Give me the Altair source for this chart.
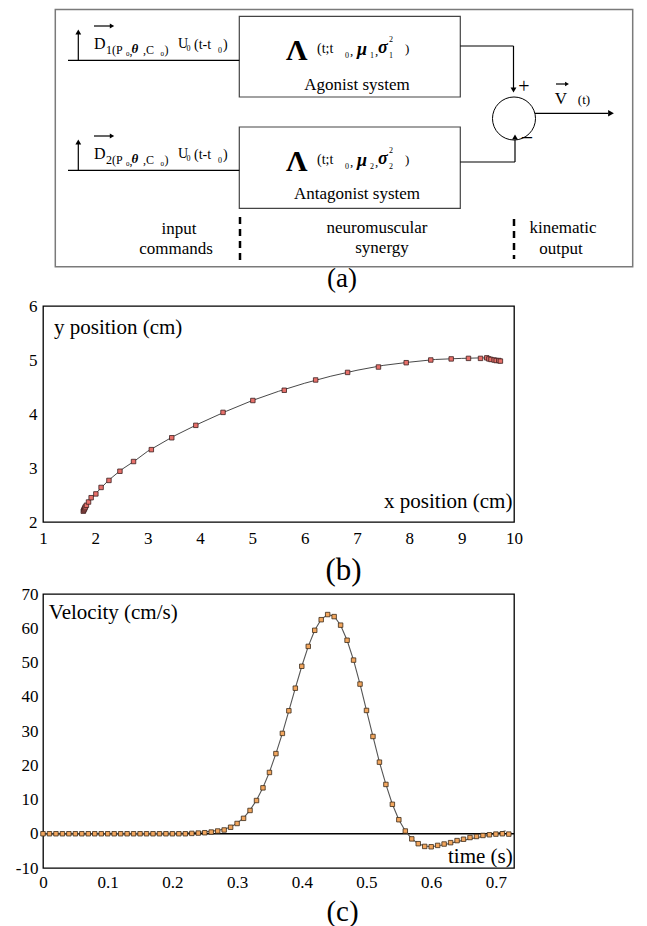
import altair as alt
import pandas as pd

FONT = "'Liberation Serif', 'Times New Roman', Times, 'DejaVu Serif', serif"

# ---------------- panel (b): trajectory ----------------
traj_x = [1.77, 1.78, 1.79, 1.80, 1.81, 1.83, 1.87, 1.92, 2.01, 2.11, 2.26, 2.47, 2.73, 3.07,
          3.46, 3.92, 4.44, 5.01, 5.61, 6.21, 6.82, 7.41, 7.94, 8.41, 8.80, 9.13, 9.36, 9.48,
          9.52, 9.56, 9.62, 9.66, 9.71, 9.74]
traj_y = [2.20, 2.22, 2.24, 2.26, 2.28, 2.31, 2.37, 2.45, 2.52, 2.64, 2.77, 2.94, 3.12, 3.34,
          3.56, 3.79, 4.03, 4.25, 4.44, 4.63, 4.77, 4.87, 4.95, 5.00, 5.02, 5.03, 5.03, 5.04,
          5.02, 5.01, 5.00, 4.99, 4.99, 4.98]
fit_x = [1.76, 1.85, 2.0, 2.25, 2.5, 2.75, 3.0, 3.5, 4.0, 4.5, 5.0, 5.5, 6.0, 6.5, 7.0, 7.5,
         8.0, 8.5, 9.0, 9.4, 9.6, 9.75]
fit_y = [2.21, 2.34, 2.52, 2.77, 2.97, 3.13, 3.31, 3.59, 3.83, 4.05, 4.25, 4.42, 4.57, 4.70,
         4.81, 4.90, 4.96, 5.01, 5.03, 5.04, 5.02, 4.99]
b_xticks = [1, 2, 3, 4, 5, 6, 7, 8, 9, 10]
b_yticks = [2, 3, 4, 5, 6]

# ---------------- panel (c): velocity ----------------
time_s = [0.00, 0.01, 0.02, 0.03, 0.04, 0.05, 0.06, 0.07, 0.08, 0.09, 0.10, 0.11, 0.12, 0.13,
          0.14, 0.15, 0.16, 0.17, 0.18, 0.19, 0.20, 0.21, 0.22, 0.23, 0.24, 0.25, 0.26, 0.27,
          0.28, 0.29, 0.30, 0.31, 0.32, 0.33, 0.34, 0.35, 0.36, 0.37, 0.38, 0.39, 0.40, 0.41,
          0.42, 0.43, 0.44, 0.45, 0.46, 0.47, 0.48, 0.49, 0.50, 0.51, 0.52, 0.53, 0.54, 0.55,
          0.56, 0.57, 0.58, 0.59, 0.60, 0.61, 0.62, 0.63, 0.64, 0.65, 0.66, 0.67, 0.68, 0.69,
          0.70, 0.71, 0.72]
velocity = [0.0, 0.0, 0.0, 0.0, 0.0, 0.0, 0.0, 0.0, 0.0, 0.0, 0.0, 0.0, 0.0, 0.0,
            0.0, 0.0, 0.0, 0.0, 0.0, 0.0, 0.0, 0.0, 0.0, 0.1, 0.2, 0.3, 0.5, 0.8,
            1.1, 1.9, 3.0, 4.5, 6.8, 9.7, 13.4, 17.9, 23.4, 29.3, 35.9, 42.5, 48.9, 54.7,
            59.4, 62.5, 64.0, 63.4, 60.9, 56.5, 50.7, 43.7, 36.0, 28.4, 20.9, 14.4, 8.6, 4.1,
            0.8, -1.5, -2.9, -3.7, -3.8, -3.4, -3.0, -2.6, -2.0, -1.6, -1.1, -0.8, -0.5, -0.3,
            -0.1, 0.0, -0.1]
model_t = [0.00, 0.10, 0.20, 0.22, 0.24, 0.26, 0.28, 0.29, 0.30, 0.31, 0.32, 0.33, 0.34, 0.35,
           0.36, 0.37, 0.38, 0.39, 0.40, 0.41, 0.42, 0.43, 0.44, 0.45, 0.46, 0.47, 0.48, 0.49,
           0.50, 0.51, 0.52, 0.53, 0.54, 0.55, 0.56, 0.57, 0.58, 0.59, 0.60, 0.62, 0.64, 0.66,
           0.68, 0.70, 0.715]
model_v = [0.0, 0.0, 0.1, 0.2, 0.4, 0.7, 1.3, 2.0, 3.1, 4.6, 6.9, 9.8, 13.5, 18.0,
           23.4, 29.3, 35.9, 42.5, 48.9, 54.7, 59.4, 62.6, 64.0, 63.5, 60.9, 56.5, 50.7, 43.7,
           36.0, 28.4, 20.9, 14.4, 8.6, 4.1, 0.8, -1.5, -2.9, -3.6, -3.8, -3.2, -2.3, -1.5,
           -0.8, 0.0, 0.9]
c_xticks = [0, 0.1, 0.2, 0.3, 0.4, 0.5, 0.6, 0.7]
c_yticks = [-10, 0, 10, 20, 30, 40, 50, 60, 70]

# ---------------- panel (a): block diagram (diagram coordinates) ----------------
box_x = [54.3, 238.3, 238.3]
box_x2 = [631.7, 459.3, 459.3]
box_y = [8.6, 15.3, 126.0]
box_y2 = [265.7, 96.0, 207.3]
box_stroke = ["#7a7a7a", "#444444", "#444444"]
box_width = [1.5, 1.2, 1.2]

seg_x = [67, 67, 77.3, 77.3, 93, 93, 459.3, 512.5, 459.3, 514, 534, 555]
seg_y = [59.3, 169.3, 59.3, 169.3, 25, 135, 45, 45, 161, 161, 112.3, 83]
seg_x2 = [238.3, 238.3, 77.3, 77.3, 109, 109, 512.5, 512.5, 514, 514, 607, 564]
seg_y2 = [59.3, 169.3, 33, 143, 25, 135, 45, 87, 161, 139, 112.3, 83]

dash_x = [239, 513]
dash_y = [216, 218]
dash_y2 = [259, 258]

head_x = [77.3, 77.3, 111, 111, 512.5, 514, 610, 566]
head_y = [31, 141, 25, 135, 89, 136, 112.3, 83]
head_shape = ["triangle-up", "triangle-up", "triangle-right", "triangle-right",
              "triangle-down", "triangle-up", "triangle-right", "triangle-right"]
head_size = [34, 34, 26, 26, 34, 34, 44, 20]

sum_x = [513]
sum_y = [117.5]

# left-aligned normal text pieces (x = left edge, y = centre)
txt_l = ["D", "1(P", "0", ",", ",C", "0", ")", "U", "0", "(t-t", "0", ")",
         "D", "2(P", "0", ",", ",C", "0", ")", "U", "0", "(t-t", "0", ")",
         "(t;t", "0", ",", "1", ",", "2", "1", ")",
         "(t;t", "0", ",", "2", ",", "2", "2", ")"]
txt_l_x = [93, 105, 125, 128.5, 142, 159.5, 163.5, 177, 185.5, 193, 217, 222,
           93, 105, 125, 128.5, 142, 159.5, 163.5, 177, 185.5, 193, 217, 222,
           316, 344, 349, 369, 374, 388, 388, 404,
           316, 344, 349, 369, 374, 388, 388, 404]
txt_l_y = [43, 49, 53, 50, 49, 53, 49, 43, 48, 44, 50, 44,
           153, 159, 163, 160, 159, 163, 159, 153, 158, 154, 160, 154,
           48, 55, 50, 55, 50, 39, 55, 48,
           159, 166, 161, 166, 161, 150, 166, 159]
txt_l_size = [16, 12, 7, 12, 12, 7, 12, 14, 8, 14, 8, 14,
              16, 12, 7, 12, 12, 7, 12, 14, 8, 14, 8, 14,
              14, 8, 13, 8, 13, 8, 8, 13,
              14, 8, 13, 8, 13, 8, 8, 13]

# bold-italic greek pieces
greek = ["θ", "θ", "μ", "σ", "μ", "σ"]
greek_x = [130.5, 130.5, 356, 377, 356, 377]
greek_y = [48, 158, 49, 47, 160, 158]
greek_size = [13, 13, 18, 18, 18, 18]

# bold Lambda
lam = ["Λ", "Λ"]
lam_x = [285, 285]
lam_y = [50, 161]

# centred text
txt_c = ["Agonist system", "Antagonist system", "input", "commands", "neuromuscular",
         "synergy", "kinematic", "output", "(a)", "+", "−", "V", "(t)"]
txt_c_x = [356, 356, 178, 175, 376, 381, 562, 560, 341, 523, 526, 560, 583]
txt_c_y = [84, 193, 228, 248, 227, 247, 227, 248, 278, 86, 137, 97.5, 99]
txt_c_size = [17, 17, 17, 17, 17, 17, 17, 17, 27, 20, 22, 17, 13]

# ---------------- layout ----------------
ORIGIN_X = 42.0
ORIGIN_Y = 8.0
A_W, A_H = 591, 225
B_W, B_H = 471, 216
C_W, C_H = 471, 274

ax_scale = alt.Scale(domain=[ORIGIN_X, ORIGIN_X + A_W], nice=False, zero=False)
ay_scale = alt.Scale(domain=[ORIGIN_Y, ORIGIN_Y + A_H], nice=False, zero=False, reverse=True)


def AX(f):
    return alt.X(f"{f}:Q", scale=ax_scale, axis=None)


def AY(f):
    return alt.Y(f"{f}:Q", scale=ay_scale, axis=None)


def AX2(f):
    return alt.X2(f"{f}:Q")


def AY2(f):
    return alt.Y2(f"{f}:Q")


boxes = alt.Chart(pd.DataFrame({"x": box_x, "x2": box_x2, "y": box_y, "y2": box_y2,
                                "stroke": box_stroke, "sw": box_width})).mark_rect(
    fillOpacity=0).encode(
    x=AX("x"), x2=AX2("x2"), y=AY("y"), y2=AY2("y2"),
    stroke=alt.Stroke("stroke:N", scale=None),
    strokeWidth=alt.StrokeWidth("sw:Q", scale=None))

segs = alt.Chart(pd.DataFrame({"x": seg_x, "y": seg_y, "x2": seg_x2, "y2": seg_y2})).mark_rule(
    color="black", strokeWidth=1.2).encode(
    x=AX("x"), x2=AX2("x2"), y=AY("y"), y2=AY2("y2"))

dashes = alt.Chart(pd.DataFrame({"x": dash_x, "y": dash_y, "y2": dash_y2})).mark_rule(
    color="black", strokeWidth=2.5, strokeDash=[7, 5]).encode(
    x=AX("x"), y=AY("y"), y2=AY2("y2"))

heads = alt.Chart(pd.DataFrame({"x": head_x, "y": head_y, "shape": head_shape,
                                "size": head_size})).mark_point(
    filled=True, color="black", opacity=1).encode(
    x=AX("x"), y=AY("y"),
    shape=alt.Shape("shape:N", scale=None),
    size=alt.Size("size:Q", scale=None))

summer = alt.Chart(pd.DataFrame({"x": sum_x, "y": sum_y})).mark_point(
    shape="circle", filled=False, color="black", size=1850, strokeWidth=1, opacity=1).encode(
    x=AX("x"), y=AY("y"))

t_left = alt.Chart(pd.DataFrame({"x": txt_l_x, "y": txt_l_y, "t": txt_l, "size": txt_l_size})).mark_text(
    align="left", baseline="middle", font=FONT, color="black").encode(
    x=AX("x"), y=AY("y"), text="t:N", size=alt.Size("size:Q", scale=None))

t_greek = alt.Chart(pd.DataFrame({"x": greek_x, "y": greek_y, "t": greek, "size": greek_size})).mark_text(
    align="left", baseline="middle", font=FONT, fontStyle="italic", fontWeight="bold",
    color="black").encode(
    x=AX("x"), y=AY("y"), text="t:N", size=alt.Size("size:Q", scale=None))

t_lam = alt.Chart(pd.DataFrame({"x": lam_x, "y": lam_y, "t": lam})).mark_text(
    align="left", baseline="middle", font=FONT, fontWeight="bold", fontSize=30,
    color="black").encode(x=AX("x"), y=AY("y"), text="t:N")

t_center = alt.Chart(pd.DataFrame({"x": txt_c_x, "y": txt_c_y, "t": txt_c, "size": txt_c_size})).mark_text(
    align="center", baseline="middle", font=FONT, color="black").encode(
    x=AX("x"), y=AY("y"), text="t:N", size=alt.Size("size:Q", scale=None))

panel_a = alt.layer(boxes, segs, dashes, heads, summer, t_left, t_greek, t_lam, t_center).properties(
    width=A_W, height=A_H, view=alt.ViewBackground(stroke="transparent"))

# ---------------- panel (b) ----------------
axis_common = dict(labelFont=FONT, labelFontSize=17, labelColor="black", ticks=False,
                   domain=False, grid=False, labelFlush=False, labelOverlap=False,
                   labelExpr="'' + datum.value")

bxs = alt.Scale(domain=[1, 10], nice=False, zero=False)
bys = alt.Scale(domain=[2, 6], nice=False, zero=False)
BX = alt.X("x:Q", scale=bxs, axis=alt.Axis(values=b_xticks, labelPadding=8, title="(b)",
                                          titleFont=FONT, titleFontSize=31,
                                          titleFontWeight="normal", titleColor="black",
                                          titleX=300, titleY=48, titleBaseline="middle",
                                          titleAlign="center", **axis_common))
BY = alt.Y("y:Q", scale=bys, axis=alt.Axis(values=b_yticks, labelPadding=6, title=None,
                                          **axis_common))

b_line = alt.Chart(pd.DataFrame({"x": fit_x, "y": fit_y})).mark_line(
    color="#333333", strokeWidth=0.9).encode(x=BX, y=BY)
b_points = alt.Chart(pd.DataFrame({"x": traj_x, "y": traj_y})).mark_point(
    shape="square", filled=True, fill="#e8706a", stroke="#3a2020", strokeWidth=0.8,
    size=20, opacity=1).encode(x=BX, y=BY)
b_labels = alt.Chart(pd.DataFrame({"x": [1.21], "y": [5.59], "t": ["y position (cm)"]})).mark_text(
    align="left", baseline="middle", font=FONT, fontSize=21, color="black").encode(
    x=BX, y=BY, text="t:N")
b_labels2 = alt.Chart(pd.DataFrame({"x": [9.97], "y": [2.37], "t": ["x position (cm)"]})).mark_text(
    align="right", baseline="middle", font=FONT, fontSize=21, color="black").encode(
    x=BX, y=BY, text="t:N")

panel_b = alt.layer(b_line, b_points, b_labels, b_labels2).properties(
    width=B_W, height=B_H, view=alt.ViewBackground(stroke="black", strokeWidth=1.3))

# ---------------- panel (c) ----------------
cxs = alt.Scale(domain=[0, 0.728], nice=False, zero=False)
cys = alt.Scale(domain=[-10, 70], nice=False, zero=False)
CX = alt.X("t:Q", scale=cxs, axis=alt.Axis(values=c_xticks, labelPadding=6, title="(c)",
                                          titleFont=FONT, titleFontSize=29,
                                          titleFontWeight="normal", titleColor="black",
                                          titleX=299, titleY=43, titleBaseline="middle",
                                          titleAlign="center", **axis_common))
CY = alt.Y("v:Q", scale=cys, axis=alt.Axis(values=c_yticks, labelPadding=5, title=None,
                                          **axis_common))

c_zero = alt.Chart(pd.DataFrame({"v": [0]})).mark_rule(color="black", strokeWidth=1.5).encode(y=CY)
c_line = alt.Chart(pd.DataFrame({"t": model_t, "v": model_v})).mark_line(
    color="#555555", strokeWidth=1.1).encode(x=CX, y=CY)
c_points = alt.Chart(pd.DataFrame({"t": time_s, "v": velocity})).mark_point(
    shape="square", filled=True, fill="#f2a65e", stroke="#3a2a18", strokeWidth=0.8,
    size=20, opacity=1).encode(x=CX, y=CY)
c_lab1 = alt.Chart(pd.DataFrame({"t": [0.009], "v": [64.5], "s": ["Velocity (cm/s)"]})).mark_text(
    align="left", baseline="middle", font=FONT, fontSize=21, color="black").encode(
    x=CX, y=CY, text="s:N")
c_lab2 = alt.Chart(pd.DataFrame({"t": [0.726], "v": [-6.9], "s": ["time (s)"]})).mark_text(
    align="right", baseline="middle", font=FONT, fontSize=21, color="black").encode(
    x=CX, y=CY, text="s:N")

panel_c = alt.layer(c_zero, c_line, c_points, c_lab1, c_lab2).properties(
    width=C_W, height=C_H, view=alt.ViewBackground(stroke="black", strokeWidth=1.3))

chart = alt.vconcat(panel_a, panel_b, panel_c, spacing=72, bounds="flush").properties(
    padding={"left": 6, "top": 0, "right": 0, "bottom": 0}, background="white"
).configure_view(stroke="black", strokeWidth=1.3)

chart.save("out.html", embed_options={"renderer": "svg", "actions": False})
